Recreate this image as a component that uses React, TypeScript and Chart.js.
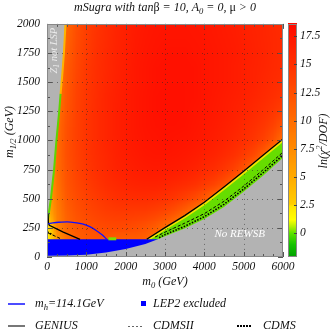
import React, { useEffect, useRef } from 'react';
import { Chart, registerables } from 'chart.js';
Chart.register(...registerables);

const FONT = '"Liberation Serif", "Times New Roman", Times, serif';

// axis ticks
const M0_TICKS = [0, 1000, 2000, 3000, 4000, 5000, 6000];
const M12_TICKS = [0, 250, 500, 750, 1000, 1250, 1500, 1750, 2000];
const CB_TICKS = [0, 2.5, 5, 7.5, 10, 12.5, 15, 17.5];
const CB_MIN = -2.1;
const CB_MAX = 18.6;

// heat map grid of ln(chi2/DOF)
const HEAT_M0 = [0, 250, 500, 750, 1000, 1250, 1500, 1750, 2000, 2250, 2500, 2750, 3000, 3250, 3500, 3750, 4000, 4250, 4500, 4750, 5000, 5250, 5500, 5750, 6000];
const HEAT_M12 = [2000, 1875, 1750, 1625, 1500, 1375, 1250, 1125, 1000, 875, 750, 625, 500, 375, 250, 125, 0];
const LN_CHI2 = [
  [6, 8, 10.5, 12.5, 13.8, 14.7, 15.4, 16, 16.5, 17, 17.3, 17.5, 17.6, 17.6, 17.6, 17.5, 17.4, 17.2, 17, 16.8, 16.5, 16.2, 16, 15.7, 15.5],
  [6, 8, 10.8, 12.7, 13.9, 14.8, 15.5, 16.1, 16.6, 17.1, 17.4, 17.6, 17.7, 17.7, 17.7, 17.6, 17.5, 17.3, 17.1, 16.9, 16.6, 16.3, 16, 15.8, 15.5],
  [6, 8, 11.2, 12.9, 14.1, 15, 15.7, 16.2, 16.7, 17.2, 17.5, 17.7, 17.8, 17.8, 17.8, 17.7, 17.6, 17.4, 17.2, 17, 16.7, 16.4, 16.1, 15.8, 15.5],
  [6, 8.5, 11.5, 13.1, 14.3, 15.1, 15.8, 16.3, 16.8, 17.3, 17.6, 17.8, 17.9, 17.9, 17.9, 17.8, 17.6, 17.4, 17.2, 16.9, 16.6, 16.3, 16, 15.7, 15.4],
  [5, 8.5, 11.7, 13.3, 14.4, 15.2, 15.9, 16.4, 16.9, 17.3, 17.6, 17.8, 17.9, 17.9, 17.9, 17.8, 17.6, 17.4, 17.2, 16.9, 16.6, 16.3, 15.9, 15.5, 15.1],
  [5, 9, 11.9, 13.5, 14.5, 15.3, 16, 16.5, 17, 17.4, 17.7, 17.9, 18, 18, 17.9, 17.8, 17.6, 17.3, 17, 16.7, 16.4, 16, 15.6, 15.1, 14.6],
  [5, 9.5, 12.1, 13.6, 14.6, 15.4, 16, 16.6, 17, 17.4, 17.7, 17.9, 18, 18, 17.9, 17.7, 17.5, 17.2, 16.9, 16.5, 16.1, 15.7, 15.1, 14.5, 13.6],
  [5, 10, 12.3, 13.7, 14.7, 15.4, 16, 16.6, 17, 17.4, 17.7, 17.8, 17.9, 17.9, 17.8, 17.6, 17.3, 17, 16.6, 16.2, 15.7, 15.1, 14.4, 13.4, 11.8],
  [5, 10, 12.4, 13.7, 14.7, 15.4, 16, 16.5, 17, 17.3, 17.6, 17.7, 17.8, 17.7, 17.6, 17.4, 17.1, 16.7, 16.3, 15.8, 15.2, 14.5, 13.5, 12, 9.5],
  [5, 10, 12.4, 13.6, 14.6, 15.3, 15.9, 16.4, 16.8, 17.1, 17.4, 17.5, 17.5, 17.4, 17.2, 16.9, 16.5, 16.1, 15.6, 14.9, 14, 12.8, 10.8, 8, 5],
  [5, 10, 12.2, 13.4, 14.4, 15.1, 15.7, 16.2, 16.5, 16.8, 17, 17.1, 17, 16.9, 16.6, 16.2, 15.7, 15.2, 14.4, 13.4, 11.8, 9.5, 6.5, 4, 3],
  [5, 9.5, 12, 13.1, 14, 14.7, 15.3, 15.7, 16, 16.2, 16.3, 16.3, 16.1, 15.8, 15.4, 14.9, 14.2, 13.3, 12, 10.2, 7.5, 5, 3.5, 3, 3],
  [5, 9, 11.6, 12.7, 13.5, 14.1, 14.6, 15, 15.2, 15.3, 15.3, 15.1, 14.8, 14.3, 13.6, 12.7, 11.4, 9.5, 7, 5, 3.5, 3, 3, 3, 3],
  [4, 8.5, 11, 12.2, 12.9, 13.4, 13.8, 14, 14.1, 14, 13.8, 13.4, 12.8, 11.8, 10.4, 8.5, 6.5, 4.5, 3.5, 3, 3, 3, 3, 3, 3],
  [1.8, 8, 10.5, 11.6, 12.2, 12.6, 12.8, 12.9, 12.8, 12.5, 12, 11.2, 9.8, 8, 6, 4.2, 3.5, 3, 3, 3, 3, 3, 3, 3, 3],
  [1.5, 6, 9.5, 10.8, 11.3, 11.5, 11.4, 10.5, 10.5, 10.8, 10.5, 9.5, 7.5, 5.5, 4, 3.5, 3, 3, 3, 3, 3, 3, 3, 3, 3],
  [1.5, 5, 8, 9, 9.5, 9.5, 9.5, 9.5, 9.5, 9.5, 9, 8, 6.5, 5, 4, 3.5, 3, 3, 3, 3, 3, 3, 3, 3, 3],
];

// colour map stops: value, r, g, b
const CMAP_STOPS = [
  [-2.1, 0, 160, 0], [-1, 20, 195, 0], [0, 90, 225, 0], [0.6, 180, 240, 0], [1.2, 255, 255, 0],
  [2.4, 255, 228, 0], [2.6, 255, 205, 0], [5, 255, 170, 0], [7.5, 255, 138, 0], [10, 255, 108, 0],
  [12.5, 255, 78, 0], [15, 255, 48, 0], [18.6, 255, 10, 0],
];

// region boundaries (m0, m1/2)
const REWSB_EDGE = [[0, 10], [500, 12], [1000, 20], [1500, 38], [2000, 68], [2500, 112], [2800, 150], [3000, 178], [3500, 245], [4000, 325], [4500, 430], [5000, 560], [5500, 700], [6000, 852]];
const LSP_EDGE = [[0, 300], [90, 500], [170, 750], [230, 1000], [300, 1250], [370, 1500], [420, 1750], [460, 2000]];
const LEP2_EDGE = [[0, 152], [2820, 152]];
const BAND_TOP = [[2535, 142], [3000, 242], [3500, 344], [4000, 458], [4500, 588], [5000, 722], [5500, 862], [6000, 1000]];
const STAU_GREEN = [[15, 300], [100, 500], [180, 750], [240, 1000], [310, 1250], [345, 1400]];
const STAU_YELLOW = [[345, 1400], [385, 1550], [430, 1750], [470, 2000]];
const LEP2_SPOT = [[1560, 156], [1760, 156]];

// contours
const MH_LINE = [[30, 285], [150, 293], [300, 298], [600, 300], [900, 285], [1100, 258], [1250, 228], [1400, 190], [1520, 152]];
const GENIUS_LEFT = [[25, 375], [35, 290], [60, 272], [400, 215], [840, 152]];
const GENIUS_RIGHT = [[2535, 152], [3000, 252], [3500, 355], [4000, 470], [4500, 600], [5000, 735], [5500, 875], [6000, 1013]];
const CDMSII_LEFT = [[30, 205], [200, 180], [360, 155]];
const CDMSII_RIGHT = [[2750, 172], [3000, 213], [3500, 290], [4000, 372], [4500, 478], [5000, 608], [5500, 750], [6000, 900]];
const CDMS_LEFT = [[10, 215], [150, 190]];
const CDMS_RIGHT = [[2850, 165], [3000, 192], [3500, 263], [4000, 346], [4500, 452], [5000, 583], [5500, 725], [6000, 875]];

function cmap(v: number): [number, number, number] {
  const s = CMAP_STOPS;
  if (v <= s[0][0]) return [s[0][1], s[0][2], s[0][3]];
  for (let i = 1; i < s.length; i++) {
    if (v <= s[i][0]) {
      const t = (v - s[i - 1][0]) / (s[i][0] - s[i - 1][0]);
      return [0, 1, 2].map((k) => Math.round(s[i - 1][k + 1] + t * (s[i][k + 1] - s[i - 1][k + 1]))) as any;
    }
  }
  const l = s[s.length - 1];
  return [l[1], l[2], l[3]];
}
const css = (c: number[]) => `rgb(${c[0]},${c[1]},${c[2]})`;

type Seg = { t: string; sub?: boolean; sup?: boolean; up?: boolean };
function drawRich(ctx: CanvasRenderingContext2D, segs: Seg[], x: number, y: number, align: 'center' | 'left', size: number, color: string) {
  const fontFor = (s: Seg) => `${s.up ? '' : 'italic '}${s.sub || s.sup ? size * 0.72 : size}px ${FONT}`;
  let total = 0;
  const widths = segs.map((s) => {
    ctx.font = fontFor(s);
    const w = ctx.measureText(s.t).width;
    total += w;
    return w;
  });
  let cx = align === 'center' ? x - total / 2 : x;
  ctx.fillStyle = color;
  ctx.textBaseline = 'middle';
  ctx.textAlign = 'left';
  segs.forEach((s, i) => {
    ctx.font = fontFor(s);
    const dy = s.sub ? size * 0.32 : s.sup ? -size * 0.35 : 0;
    ctx.fillText(s.t, cx, y + dy);
    cx += widths[i];
  });
}

const pts = (a: number[][]) => a.map(([x, y]) => ({ x, y }));
const line = (label: string, a: number[][], extra: any) => ({
  label,
  data: pts(a),
  pointRadius: 0,
  borderWidth: 1,
  borderColor: '#000',
  fill: false,
  tension: 0,
  ...extra,
});

const heatPlugin = {
  id: 'heat',
  beforeDatasetsDraw(chart: any) {
    const { ctx, chartArea: a, scales } = chart;
    const xs = scales.x, ys = scales.y;
    const cols = HEAT_M0.length, rows = HEAT_M12.length;
    const off = document.createElement('canvas');
    off.width = cols;
    off.height = rows;
    const octx = off.getContext('2d')!;
    const img = octx.createImageData(cols, rows);
    for (let r = 0; r < rows; r++) {
      for (let c = 0; c < cols; c++) {
        const col = cmap(LN_CHI2[r][c]);
        const i = (r * cols + c) * 4;
        img.data[i] = col[0];
        img.data[i + 1] = col[1];
        img.data[i + 2] = col[2];
        img.data[i + 3] = 255;
      }
    }
    octx.putImageData(img, 0, 0);
    const dx = HEAT_M0[1] - HEAT_M0[0];
    const dy = HEAT_M12[0] - HEAT_M12[1];
    const x0 = xs.getPixelForValue(HEAT_M0[0] - dx / 2);
    const x1 = xs.getPixelForValue(HEAT_M0[cols - 1] + dx / 2);
    const y0 = ys.getPixelForValue(HEAT_M12[0] + dy / 2);
    const y1 = ys.getPixelForValue(HEAT_M12[rows - 1] - dy / 2);
    ctx.save();
    ctx.beginPath();
    ctx.rect(a.left, a.top, a.right - a.left, a.bottom - a.top);
    ctx.clip();
    ctx.imageSmoothingEnabled = true;
    ctx.drawImage(off, x0, y0, x1 - x0, y1 - y0);
    ctx.restore();
  },
  afterDatasetsDraw(chart: any) {
    const { ctx, chartArea: a, scales } = chart;
    const xs = scales.x, ys = scales.y;
    ctx.save();
    // dotted grid
    ctx.strokeStyle = 'rgba(40,40,40,0.55)';
    ctx.lineWidth = 1;
    ctx.setLineDash([1, 4]);
    M0_TICKS.slice(1, -1).forEach((v) => {
      const p = Math.round(xs.getPixelForValue(v)) + 0.5;
      ctx.beginPath(); ctx.moveTo(p, a.top); ctx.lineTo(p, a.bottom); ctx.stroke();
    });
    M12_TICKS.slice(1, -1).forEach((v) => {
      const p = Math.round(ys.getPixelForValue(v)) + 0.5;
      ctx.beginPath(); ctx.moveTo(a.left, p); ctx.lineTo(a.right, p); ctx.stroke();
    });
    ctx.setLineDash([]);
    // inward ticks
    ctx.strokeStyle = '#555';
    for (let v = 0; v <= 6000; v += 250) {
      const p = Math.round(xs.getPixelForValue(v)) + 0.5;
      const len = v % 1000 === 0 ? 5 : 3;
      ctx.beginPath(); ctx.moveTo(p, a.bottom); ctx.lineTo(p, a.bottom - len); ctx.stroke();
      ctx.beginPath(); ctx.moveTo(p, a.top); ctx.lineTo(p, a.top + len); ctx.stroke();
    }
    for (let v = 0; v <= 2000; v += 125) {
      const p = Math.round(ys.getPixelForValue(v)) + 0.5;
      const len = v % 250 === 0 ? 5 : 3;
      ctx.beginPath(); ctx.moveTo(a.left, p); ctx.lineTo(a.left + len, p); ctx.stroke();
      ctx.beginPath(); ctx.moveTo(a.right, p); ctx.lineTo(a.right - len, p); ctx.stroke();
    }
    // frame
    ctx.strokeStyle = '#888';
    ctx.strokeRect(Math.round(a.left) + 0.5, Math.round(a.top) + 0.5, Math.round(a.right - a.left) - 1, Math.round(a.bottom - a.top) - 1);
    // region labels
    ctx.save();
    ctx.translate(xs.getPixelForValue(180), ys.getPixelForValue(1770));
    ctx.rotate(-Math.PI / 2);
    drawRich(ctx, [{ t: 'Z' }, { t: '1', sub: true }, { t: ' not LSP' }], 0, 0, 'center', 10.5, '#ececec');
    ctx.restore();
    drawRich(ctx, [{ t: 'No REWSB' }], xs.getPixelForValue(4900), ys.getPixelForValue(200), 'center', 11, '#ffffff');
    ctx.restore();
  },
  afterDraw(chart: any) {
    const { ctx, chartArea: a, scales } = chart;
    const cb = scales.cb;
    ctx.save();
    // colour bar
    const bx = Math.round(a.right) + 5, bw = 9;
    for (let py = Math.floor(cb.top); py < Math.ceil(cb.bottom); py++) {
      ctx.fillStyle = css(cmap(cb.getValueForPixel(py + 0.5)));
      ctx.fillRect(bx, py, bw, 1);
    }
    ctx.strokeStyle = '#888';
    ctx.lineWidth = 1;
    ctx.strokeRect(bx + 0.5, Math.round(cb.top) + 0.5, bw - 1, Math.round(cb.bottom - cb.top) - 1);
    ctx.strokeStyle = '#444';
    CB_TICKS.forEach((v) => {
      const p = Math.round(cb.getPixelForValue(v)) + 0.5;
      ctx.beginPath(); ctx.moveTo(bx + bw - 3, p); ctx.lineTo(bx + bw, p); ctx.stroke();
    });
    // titles
    drawRich(ctx, [{ t: 'mSugra with tan' }, { t: 'β', up: true }, { t: ' = 10, A' }, { t: '0', sub: true }, { t: ' = 0, ' }, { t: 'μ', up: true }, { t: ' > 0' }], (a.left + a.right) / 2, 8, 'center', 12, '#111');
    drawRich(ctx, [{ t: 'm' }, { t: '0', sub: true }, { t: ' (GeV)' }], (a.left + a.right) / 2, 282, 'center', 12, '#111');
    ctx.save();
    ctx.translate(10, 132);
    ctx.rotate(-Math.PI / 2);
    drawRich(ctx, [{ t: 'm' }, { t: '1/2', sub: true }, { t: ' (GeV)' }], 0, 0, 'center', 12, '#111');
    ctx.restore();
    ctx.save();
    ctx.translate(324, 141);
    ctx.rotate(-Math.PI / 2);
    drawRich(ctx, [{ t: 'ln(' }, { t: 'χ' }, { t: '2', sup: true }, { t: '/DOF)' }], 0, 0, 'center', 12, '#111');
    ctx.restore();
    // legend
    const r1 = 304, r2 = 326;
    ctx.lineWidth = 1.5;
    ctx.strokeStyle = '#1010ff';
    ctx.beginPath(); ctx.moveTo(8, r1); ctx.lineTo(25, r1); ctx.stroke();
    drawRich(ctx, [{ t: 'm' }, { t: 'h', sub: true }, { t: '=114.1GeV' }], 35, r1, 'left', 12, '#111');
    ctx.fillStyle = '#0000ff';
    ctx.fillRect(141, r1 - 3, 5, 5);
    drawRich(ctx, [{ t: 'LEP2 excluded' }], 153, r1, 'left', 12, '#111');
    ctx.strokeStyle = '#777';
    ctx.lineWidth = 2;
    ctx.beginPath(); ctx.moveTo(8, r2); ctx.lineTo(25, r2); ctx.stroke();
    drawRich(ctx, [{ t: 'GENIUS' }], 35, r2, 'left', 12, '#111');
    ctx.strokeStyle = '#666';
    ctx.lineWidth = 1;
    ctx.setLineDash([2, 2]);
    ctx.beginPath(); ctx.moveTo(128, r2 + 0.5); ctx.lineTo(144, r2 + 0.5); ctx.stroke();
    drawRich(ctx, [{ t: 'CDMSII' }], 153, r2, 'left', 12, '#111');
    ctx.strokeStyle = '#000';
    ctx.lineWidth = 2;
    ctx.setLineDash([2, 1]);
    ctx.beginPath(); ctx.moveTo(237, r2); ctx.lineTo(251, r2); ctx.stroke();
    ctx.setLineDash([]);
    drawRich(ctx, [{ t: 'CDMS' }], 263, r2, 'left', 12, '#111');
    ctx.restore();
  },
};

const tickFont = { family: FONT, size: 11.5, style: 'italic' as const };

export default function App() {
  const ref = useRef<HTMLCanvasElement>(null);
  useEffect(() => {
    document.body.style.margin = '0';
    const chart = new Chart(ref.current!, {
      type: 'line',
      data: {
        datasets: [
          line('m_h=114.1GeV', MH_LINE, { borderColor: '#1010ff', borderWidth: 1.3, tension: 0.4, order: 1 }),
          line('GENIUS', GENIUS_RIGHT, { borderWidth: 1.3, order: 1 }),
          line('GENIUS', GENIUS_LEFT, { borderWidth: 1.3, order: 1 }),
          line('CDMSII', CDMSII_RIGHT, { borderDash: [3, 2], order: 2 }),
          line('CDMSII', CDMSII_LEFT, { borderDash: [3, 2], order: 2 }),
          line('CDMS', CDMS_RIGHT, { borderDash: [1.5, 1.5], borderWidth: 1.6, order: 2 }),
          line('CDMS', CDMS_LEFT, { borderDash: [1.5, 1.5], borderWidth: 1.6, order: 2 }),
          line('spot', LEP2_SPOT, { borderColor: '#7ddc00', borderWidth: 3, order: 3 }),
          line('stau', STAU_GREEN, { borderColor: '#5fd400', borderWidth: 2, order: 4 }),
          line('stau', STAU_YELLOW, { borderColor: '#ffb400', borderWidth: 2, order: 4 }),
          line('Z1 not LSP', LSP_EDGE, { borderColor: 'transparent', borderWidth: 0, fill: 'end', backgroundColor: '#b3b3b3', order: 8 }),
          line('No REWSB', REWSB_EDGE, { borderColor: 'transparent', borderWidth: 0, fill: 'start', backgroundColor: '#b3b3b3', order: 8 }),
          line('LEP2 excluded', LEP2_EDGE, { borderColor: 'transparent', borderWidth: 0, fill: 'start', backgroundColor: '#0000ff', order: 9 }),
          line('band', BAND_TOP, { borderColor: '#f2e400', borderWidth: 2.5, fill: 'start', backgroundColor: '#66dd00', order: 10 }),
        ],
      },
      options: {
        responsive: true,
        maintainAspectRatio: false,
        animation: false,
        events: [],
        layout: { padding: { top: 20, left: 0, right: 0, bottom: 0 } },
        plugins: { legend: { display: false }, tooltip: { enabled: false }, title: { display: false } },
        scales: {
          x: {
            type: 'linear', min: 0, max: 6000, position: 'bottom',
            afterBuildTicks: (s: any) => { s.ticks = M0_TICKS.map((value) => ({ value })); },
            ticks: { padding: 3, color: '#111', font: tickFont, maxRotation: 0, autoSkip: false, callback: (v: any) => String(v) },
            grid: { display: false, drawTicks: false },
            border: { display: false },
            afterFit: (s: any) => { s.height = 73; },
          },
          y: {
            type: 'linear', min: 0, max: 2000, position: 'left',
            afterBuildTicks: (s: any) => { s.ticks = M12_TICKS.map((value) => ({ value })); },
            ticks: { padding: 7, color: '#111', font: tickFont, autoSkip: false, callback: (v: any) => String(v) },
            grid: { display: false, drawTicks: false },
            border: { display: false },
            afterFit: (s: any) => { s.width = 47; },
          },
          cb: {
            type: 'linear', min: CB_MIN, max: CB_MAX, position: 'right',
            afterBuildTicks: (s: any) => { s.ticks = CB_TICKS.map((value) => ({ value })); },
            ticks: { padding: 17, color: '#111', font: tickFont, autoSkip: false, callback: (v: any) => String(v) },
            grid: { display: false, drawTicks: false },
            border: { display: false },
            afterFit: (s: any) => { s.width = 49; },
          },
        },
      } as any,
      plugins: [heatPlugin],
    });
    return () => chart.destroy();
  }, []);
  return (
    <div style={{ width: 332, height: 330, position: 'relative' }}>
      <canvas ref={ref} />
    </div>
  );
}
